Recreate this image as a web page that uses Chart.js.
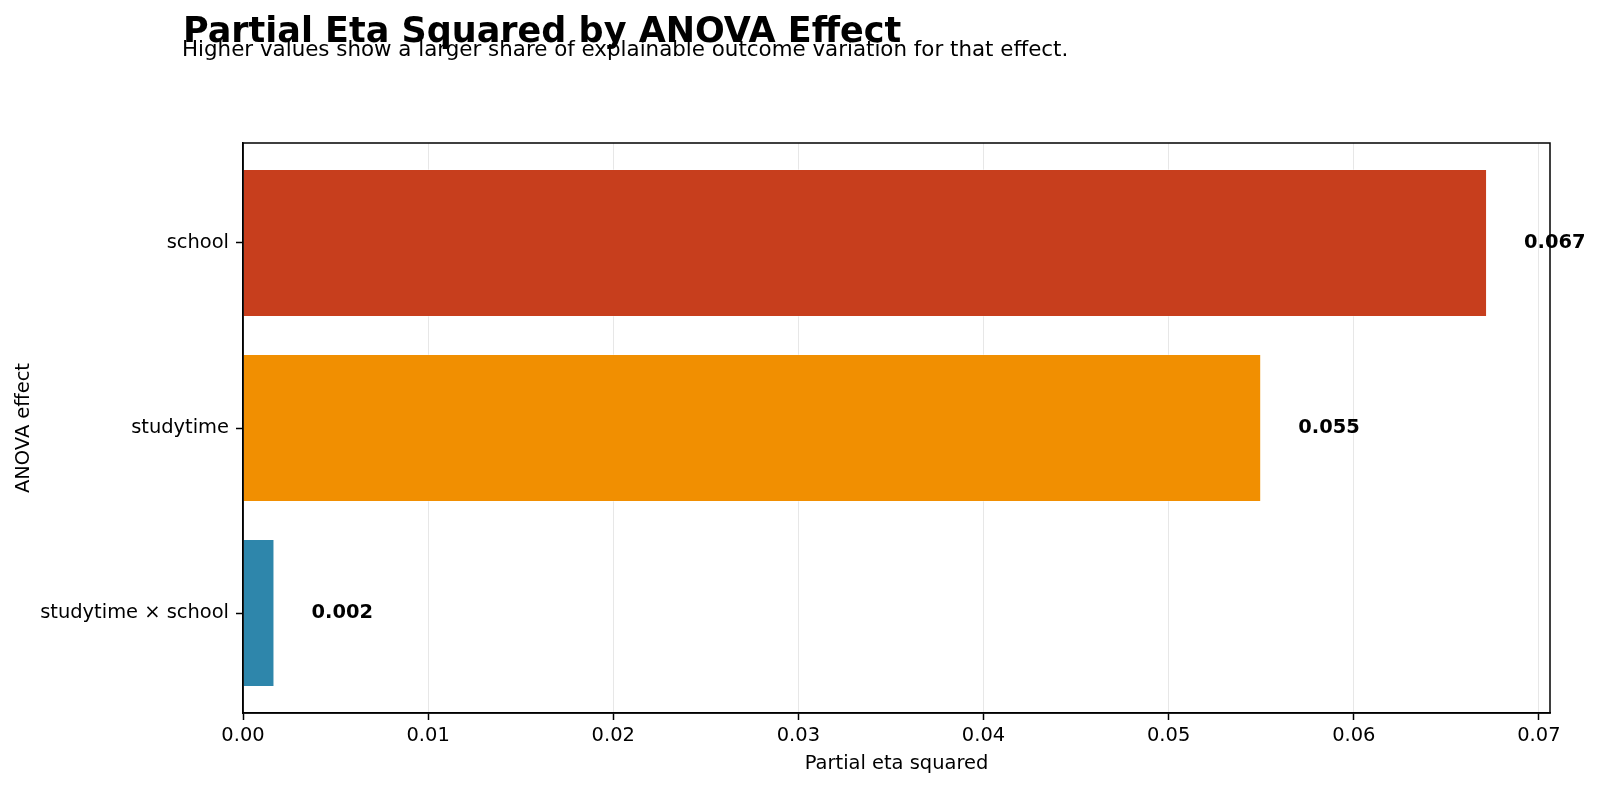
<!DOCTYPE html>
<html>
<head>
<meta charset="utf-8">
<script src="https://cdn.jsdelivr.net/npm/chart.js@4.4.1/dist/chart.umd.min.js"></script>
<style>
  html, body { margin: 0; padding: 0; background: #fff; }
  #wrap { width: 1600px; height: 788px; }
</style>
</head>
<body>
<div id="wrap"><canvas id="c" width="1600" height="788"></canvas></div>
<script>
const TITLE = 'Partial Eta Squared by ANOVA Effect';
const SUBTITLE = 'Higher values show a larger share of explainable outcome variation for that effect.';
const X_LABEL = 'Partial eta squared';
const Y_LABEL = 'ANOVA effect';

const categories = ['school', 'studytime', 'studytime × school'];
const etaValues = [0.0672, 0.0550, 0.0017];
const valueLabels = etaValues.map(v => v.toFixed(3));

const barColors = ['#C73E1D', '#F18F01', '#2E86AB'];
const FONT = '"DejaVu Sans", "Liberation Sans", sans-serif';
const BASE = 19.44;

const titlePlugin = {
  id: 'titles',
  afterDraw(chart) {
    const ctx = chart.ctx;
    ctx.save();
    ctx.fillStyle = '#000';
    ctx.textAlign = 'left';
    ctx.textBaseline = 'alphabetic';
    ctx.font = 'bold 35px ' + FONT;
    ctx.fillText(TITLE, 183, 41.5);
    ctx.font = '21.4px ' + FONT;
    ctx.fillText(SUBTITLE, 182, 56);
    ctx.restore();
  }
};

const valueLabelPlugin = {
  id: 'valueLabels',
  afterDatasetsDraw(chart) {
    const ctx = chart.ctx;
    const meta = chart.getDatasetMeta(0);
    const xs = chart.scales.x;
    ctx.save();
    ctx.fillStyle = '#000';
    ctx.font = 'bold ' + BASE + 'px ' + FONT;
    ctx.textAlign = 'left';
    ctx.textBaseline = 'middle';
    meta.data.forEach((bar, i) => {
      const x = xs.getPixelForValue(etaValues[i] + 0.002);
      ctx.fillText(valueLabels[i], x, bar.y);
    });
    ctx.restore();
  }
};

const framePlugin = {
  id: 'frame',
  afterDraw(chart) {
    const a = chart.chartArea;
    const ctx = chart.ctx;
    ctx.save();
    ctx.strokeStyle = '#000';
    ctx.lineWidth = 1.5;
    ctx.strokeRect(a.left, a.top, a.right - a.left, a.bottom - a.top);
    ctx.restore();
  }
};

new Chart(document.getElementById('c'), {
  type: 'bar',
  data: {
    datasets: [{
      data: etaValues.map((v, i) => ({ x: v, y: i })),
      backgroundColor: barColors,
      borderColor: 'rgba(255,255,255,0.35)',
      borderWidth: 1,
      categoryPercentage: 0.8,
      barPercentage: 1.0
    }]
  },
  options: {
    indexAxis: 'y',
    responsive: false,
    animation: false,
    devicePixelRatio: 1,
    layout: { padding: { top: 143, left: 0, right: 50, bottom: 0 } },
    plugins: {
      legend: { display: false },
      tooltip: { enabled: false },
      title: { display: false }
    },
    scales: {
      x: {
        type: 'linear',
        position: 'bottom',
        min: 0,
        max: 0.0706,
        z: 1,
        afterFit(scale) { scale.height = 75; },
        border: { display: true, color: '#000', width: 1.5 },
        grid: {
          display: true,
          color: 'rgba(176,176,176,0.3)',
          lineWidth: 1,
          drawTicks: true,
          tickLength: 7,
          tickColor: '#000',
          tickWidth: 1.5
        },
        ticks: {
          stepSize: 0.01,
          includeBounds: false,
          color: '#000',
          padding: 4,
          font: { family: FONT, size: BASE },
          callback: v => Number(v).toFixed(2)
        },
        title: {
          display: true,
          text: X_LABEL,
          color: '#000',
          font: { family: FONT, size: BASE },
          padding: { top: 0, bottom: 12 }
        }
      },
      y: {
        type: 'linear',
        position: 'left',
        reverse: true,
        offset: false,
        min: -0.54,
        max: 2.54,
        afterFit(scale) { scale.width = 243; },
        afterBuildTicks(scale) { scale.ticks = categories.map((_, i) => ({ value: i })); },
        border: { display: true, color: '#000', width: 1.5 },
        grid: {
          display: true,
          offset: false,
          drawOnChartArea: false,
          drawTicks: true,
          tickLength: 7,
          color: '#000',
          tickColor: '#000',
          tickWidth: 1.5
        },
        ticks: {
          color: '#000',
          padding: 7,
          font: { family: FONT, size: BASE },
          callback: v => categories[v] !== undefined ? categories[v] : ''
        },
        title: {
          display: true,
          text: Y_LABEL,
          color: '#000',
          font: { family: FONT, size: BASE },
          padding: { top: 12, bottom: 0 }
        }
      }
    }
  },
  plugins: [titlePlugin, valueLabelPlugin, framePlugin]
});
</script>
</body>
</html>
